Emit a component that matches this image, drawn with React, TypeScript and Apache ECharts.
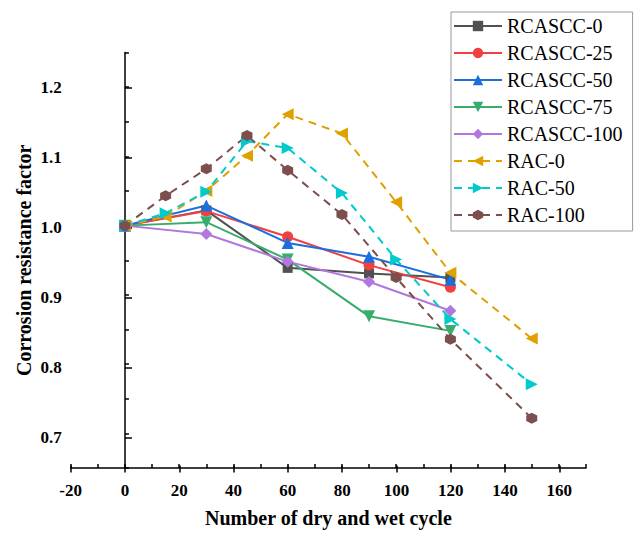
import React, { useEffect, useRef } from "react";
import * as echarts from "echarts";

const rcasccCycles = [0, 30, 60, 90, 120];
const racCycles = [0, 15, 30, 45, 60, 80, 100, 120, 150];
const rcascc0 = [1.0, 1.022, 0.939, 0.931, 0.925];
const rcascc25 = [1.0, 1.021, 0.984, 0.943, 0.911];
const rcascc50 = [1.0, 1.029, 0.975, 0.955, 0.922];
const rcascc75 = [1.0, 1.005, 0.951, 0.869, 0.848];
const rcascc100 = [1.0, 0.988, 0.948, 0.919, 0.877];
const rac0 = [1.0, 1.013, 1.05, 1.101, 1.161, 1.133, 1.034, 0.932, 0.837];
const rac50 = [1.0, 1.018, 1.049, 1.122, 1.112, 1.047, 0.951, 0.865, 0.771];
const rac100 = [1.0, 1.043, 1.082, 1.13, 1.08, 1.016, 0.925, 0.836, 0.722];

const seriesNames = ["RCASCC-0", "RCASCC-25", "RCASCC-50", "RCASCC-75", "RCASCC-100", "RAC-0", "RAC-50", "RAC-100"];

const FONT = "Liberation Serif";
const hexagon = "path://M0,-1 L0.866,-0.5 L0.866,0.5 L0,1 L-0.866,0.5 L-0.866,-0.5 Z";

export default function App() {
  const ref = useRef<HTMLDivElement>(null);
  useEffect(() => {
    if (!ref.current) return;
    const chart = echarts.init(ref.current, null, { renderer: "svg" });
    const pairs = (xs: number[], ys: number[]) => xs.map((x, i) => [x, ys[i]]);
    const mk = (
      name: string,
      xs: number[],
      ys: number[],
      color: string,
      symbol: string,
      rotate: number,
      dashed: boolean,
      size: number
    ) => ({
      name,
      type: "line",
      xAxisIndex: 0,
      yAxisIndex: 0,
      data: pairs(xs, ys),
      symbol,
      symbolSize: size,
      symbolRotate: rotate,
      showAllSymbol: true,
      lineStyle: { color, width: 2, type: dashed ? [8, 6] : "solid" },
      itemStyle: { color, borderWidth: 0 },
      emphasis: { disabled: true },
    });
    const series = [
      mk(seriesNames[0], rcasccCycles, rcascc0, "#515151", "rect", 0, false, 10),
      mk(seriesNames[1], rcasccCycles, rcascc25, "#F14040", "circle", 0, false, 11),
      mk(seriesNames[2], rcasccCycles, rcascc50, "#1A6FDF", "triangle", 0, false, 12),
      mk(seriesNames[3], rcasccCycles, rcascc75, "#37AD6B", "triangle", 180, false, 12),
      mk(seriesNames[4], rcasccCycles, rcascc100, "#B177DE", "diamond", 0, false, 12),
      mk(seriesNames[5], racCycles, rac0, "#E0A000", "triangle", 90, true, 12),
      mk(seriesNames[6], racCycles, rac50, "#00CBCC", "triangle", -90, true, 12),
      mk(seriesNames[7], racCycles, rac100, "#7D4E4E", hexagon, 0, true, 11),
    ];
    const labelStyle = { fontFamily: FONT, fontWeight: "bold" as const, fontSize: 17, color: "#000" };
    chart.setOption({
      animation: false,
      backgroundColor: "#fff",
      textStyle: { fontFamily: FONT },
      grid: [
        { left: 70.7, right: 49, top: 52.5, bottom: 60.5 },
        { left: 70.7, right: 75.7, top: 87.5, bottom: 95.5 },
      ],
      legend: {
        left: 451,
        top: 12,
        orient: "vertical",
        data: seriesNames,
        itemWidth: 48,
        itemHeight: 13,
        itemGap: 7,
        padding: [4, 10, 6, 2],
        borderColor: "#999",
        borderWidth: 1,
        backgroundColor: "#fff",
        textStyle: { fontFamily: FONT, fontSize: 20, color: "#000" },
      },
      xAxis: [
        {
          type: "value",
          gridIndex: 0,
          min: -20,
          max: 170,
          interval: 10,
          name: "Number of dry and wet cycle",
          nameLocation: "middle",
          nameGap: 40,
          nameTextStyle: { fontFamily: FONT, fontWeight: "bold", fontSize: 20, color: "#000" },
          axisLine: { show: true, lineStyle: { color: "#000", width: 1.5 } },
          axisTick: { show: true, inside: true, length: 4, lineStyle: { color: "#000", width: 1.5 } },
          axisLabel: { show: false },
          splitLine: { show: false },
        },
        {
          type: "value",
          gridIndex: 1,
          min: -20,
          max: 160,
          interval: 20,
          offset: 35,
          axisLine: { show: false },
          axisTick: { show: true, inside: true, length: 7, lineStyle: { color: "#000", width: 1.5 } },
          axisLabel: { show: true, margin: 9, ...labelStyle },
          splitLine: { show: false },
        },
      ],
      yAxis: [
        {
          type: "value",
          gridIndex: 0,
          min: 0.65,
          max: 1.25,
          interval: 0.05,
          name: "Corrosion resistance factor",
          nameLocation: "middle",
          nameGap: 37,
          nameTextStyle: { fontFamily: FONT, fontWeight: "bold", fontSize: 20, color: "#000" },
          axisLine: { show: true, lineStyle: { color: "#000", width: 1.5 } },
          axisTick: { show: true, inside: true, length: 4, lineStyle: { color: "#000", width: 1.5 } },
          axisLabel: { show: false },
          splitLine: { show: false },
        },
        {
          type: "value",
          gridIndex: 1,
          min: 0.7,
          max: 1.2,
          interval: 0.1,
          axisLine: { show: false },
          axisTick: { show: true, inside: true, length: 7, lineStyle: { color: "#000", width: 1.5 } },
          axisLabel: { show: true, margin: 9, formatter: (v: number) => v.toFixed(1), ...labelStyle },
          splitLine: { show: false },
        },
      ],
      series,
    });
    return () => chart.dispose();
  }, []);
  return <div ref={ref} style={{ position: "fixed", left: 0, top: 0, width: 635, height: 533 }} />;
}
